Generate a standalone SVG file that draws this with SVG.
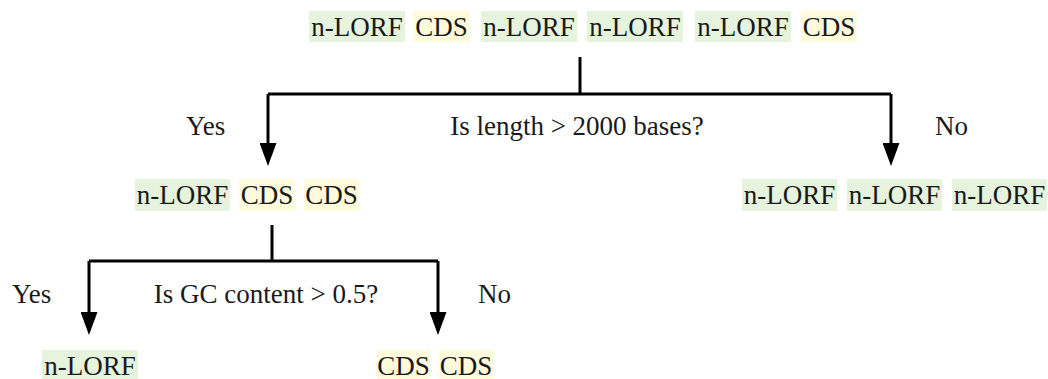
<svg xmlns="http://www.w3.org/2000/svg" width="1048" height="379" viewBox="0 0 1048 379">
  <defs>
    <marker id="head" viewBox="0 0 23 17" refX="0" refY="8.5" markerWidth="23" markerHeight="17" markerUnits="userSpaceOnUse" orient="auto">
      <path d="M0,0 L23,8.5 L0,17 Z" fill="#000"/>
    </marker>
    <style>
      text { fill: #1a1a1a; font-family: "Liberation Serif", "DejaVu Serif", "Noto Serif", serif; }
      .tok { font-size: 27px; text-anchor: middle; }
      .lbl { font-size: 27px; }
      .orf { fill: #e6f3dd; }
      .cds { fill: #fdfbdc; }
      .wire { fill: none; stroke: #000; stroke-width: 3; }
      .drop { fill: none; stroke: #000; stroke-width: 3; marker-end: url(#head); }
    </style>
  </defs>

  <rect width="1048" height="379" fill="#fff"/>

  <!-- root: full sequence -->
  <g id="root">
    <rect class="orf" x="309" y="11" width="96" height="31"/>
    <text class="tok" x="357" y="36">n-LORF</text>
    <rect class="cds" x="413" y="11" width="57" height="31"/>
    <text class="tok" x="441.5" y="36">CDS</text>
    <rect class="orf" x="481" y="11" width="96" height="31"/>
    <text class="tok" x="529" y="36">n-LORF</text>
    <rect class="orf" x="587" y="11" width="96" height="31"/>
    <text class="tok" x="635" y="36">n-LORF</text>
    <rect class="orf" x="695" y="11" width="96" height="31"/>
    <text class="tok" x="743" y="36">n-LORF</text>
    <rect class="cds" x="801" y="11" width="56" height="31"/>
    <text class="tok" x="829" y="36">CDS</text>
  </g>

  <!-- long sequences -->
  <g id="long">
    <rect class="orf" x="135" y="179" width="95" height="32"/>
    <text class="tok" x="182.5" y="204">n-LORF</text>
    <rect class="cds" x="239" y="179" width="56" height="32"/>
    <text class="tok" x="267" y="204">CDS</text>
    <rect class="cds" x="304" y="179" width="55" height="32"/>
    <text class="tok" x="331.5" y="204">CDS</text>
  </g>

  <!-- short sequences -->
  <g id="short">
    <rect class="orf" x="742" y="179" width="95" height="32"/>
    <text class="tok" x="789.5" y="204">n-LORF</text>
    <rect class="orf" x="847" y="179" width="95" height="32"/>
    <text class="tok" x="894.5" y="204">n-LORF</text>
    <rect class="orf" x="952" y="179" width="95" height="32"/>
    <text class="tok" x="999.5" y="204">n-LORF</text>
  </g>

  <!-- high GC -->
  <g id="highgc">
    <rect class="orf" x="42" y="350" width="96" height="32"/>
    <text class="tok" x="90" y="375">n-LORF</text>
  </g>

  <!-- low GC -->
  <g id="lowgc">
    <rect class="cds" x="377" y="350" width="53" height="32"/>
    <text class="tok" x="403.5" y="375">CDS</text>
    <rect class="cds" x="439" y="350" width="54" height="32"/>
    <text class="tok" x="466" y="375">CDS</text>
  </g>

  <!-- split labels -->
  <g id="labels">
    <text class="lbl" x="186" y="135">Yes</text>
    <text class="lbl" x="577" y="135" text-anchor="middle">Is length &gt; 2000 bases?</text>
    <text class="lbl" x="935" y="135">No</text>
    <text class="lbl" x="12" y="303">Yes</text>
    <text class="lbl" x="266" y="303" text-anchor="middle">Is GC content &gt; 0.5?</text>
    <text class="lbl" x="478" y="303">No</text>
  </g>

  <!-- connectors -->
  <g id="connectors">
    <path class="wire" d="M580,57 V94 M268,94 H891"/>
    <path class="drop" d="M268,94 V143"/>
    <path class="drop" d="M891,94 V143"/>
    <path class="wire" d="M272,225 V261 M89,261 H438"/>
    <path class="drop" d="M89,261 V312"/>
    <path class="drop" d="M438,261 V312"/>
  </g>
</svg>
